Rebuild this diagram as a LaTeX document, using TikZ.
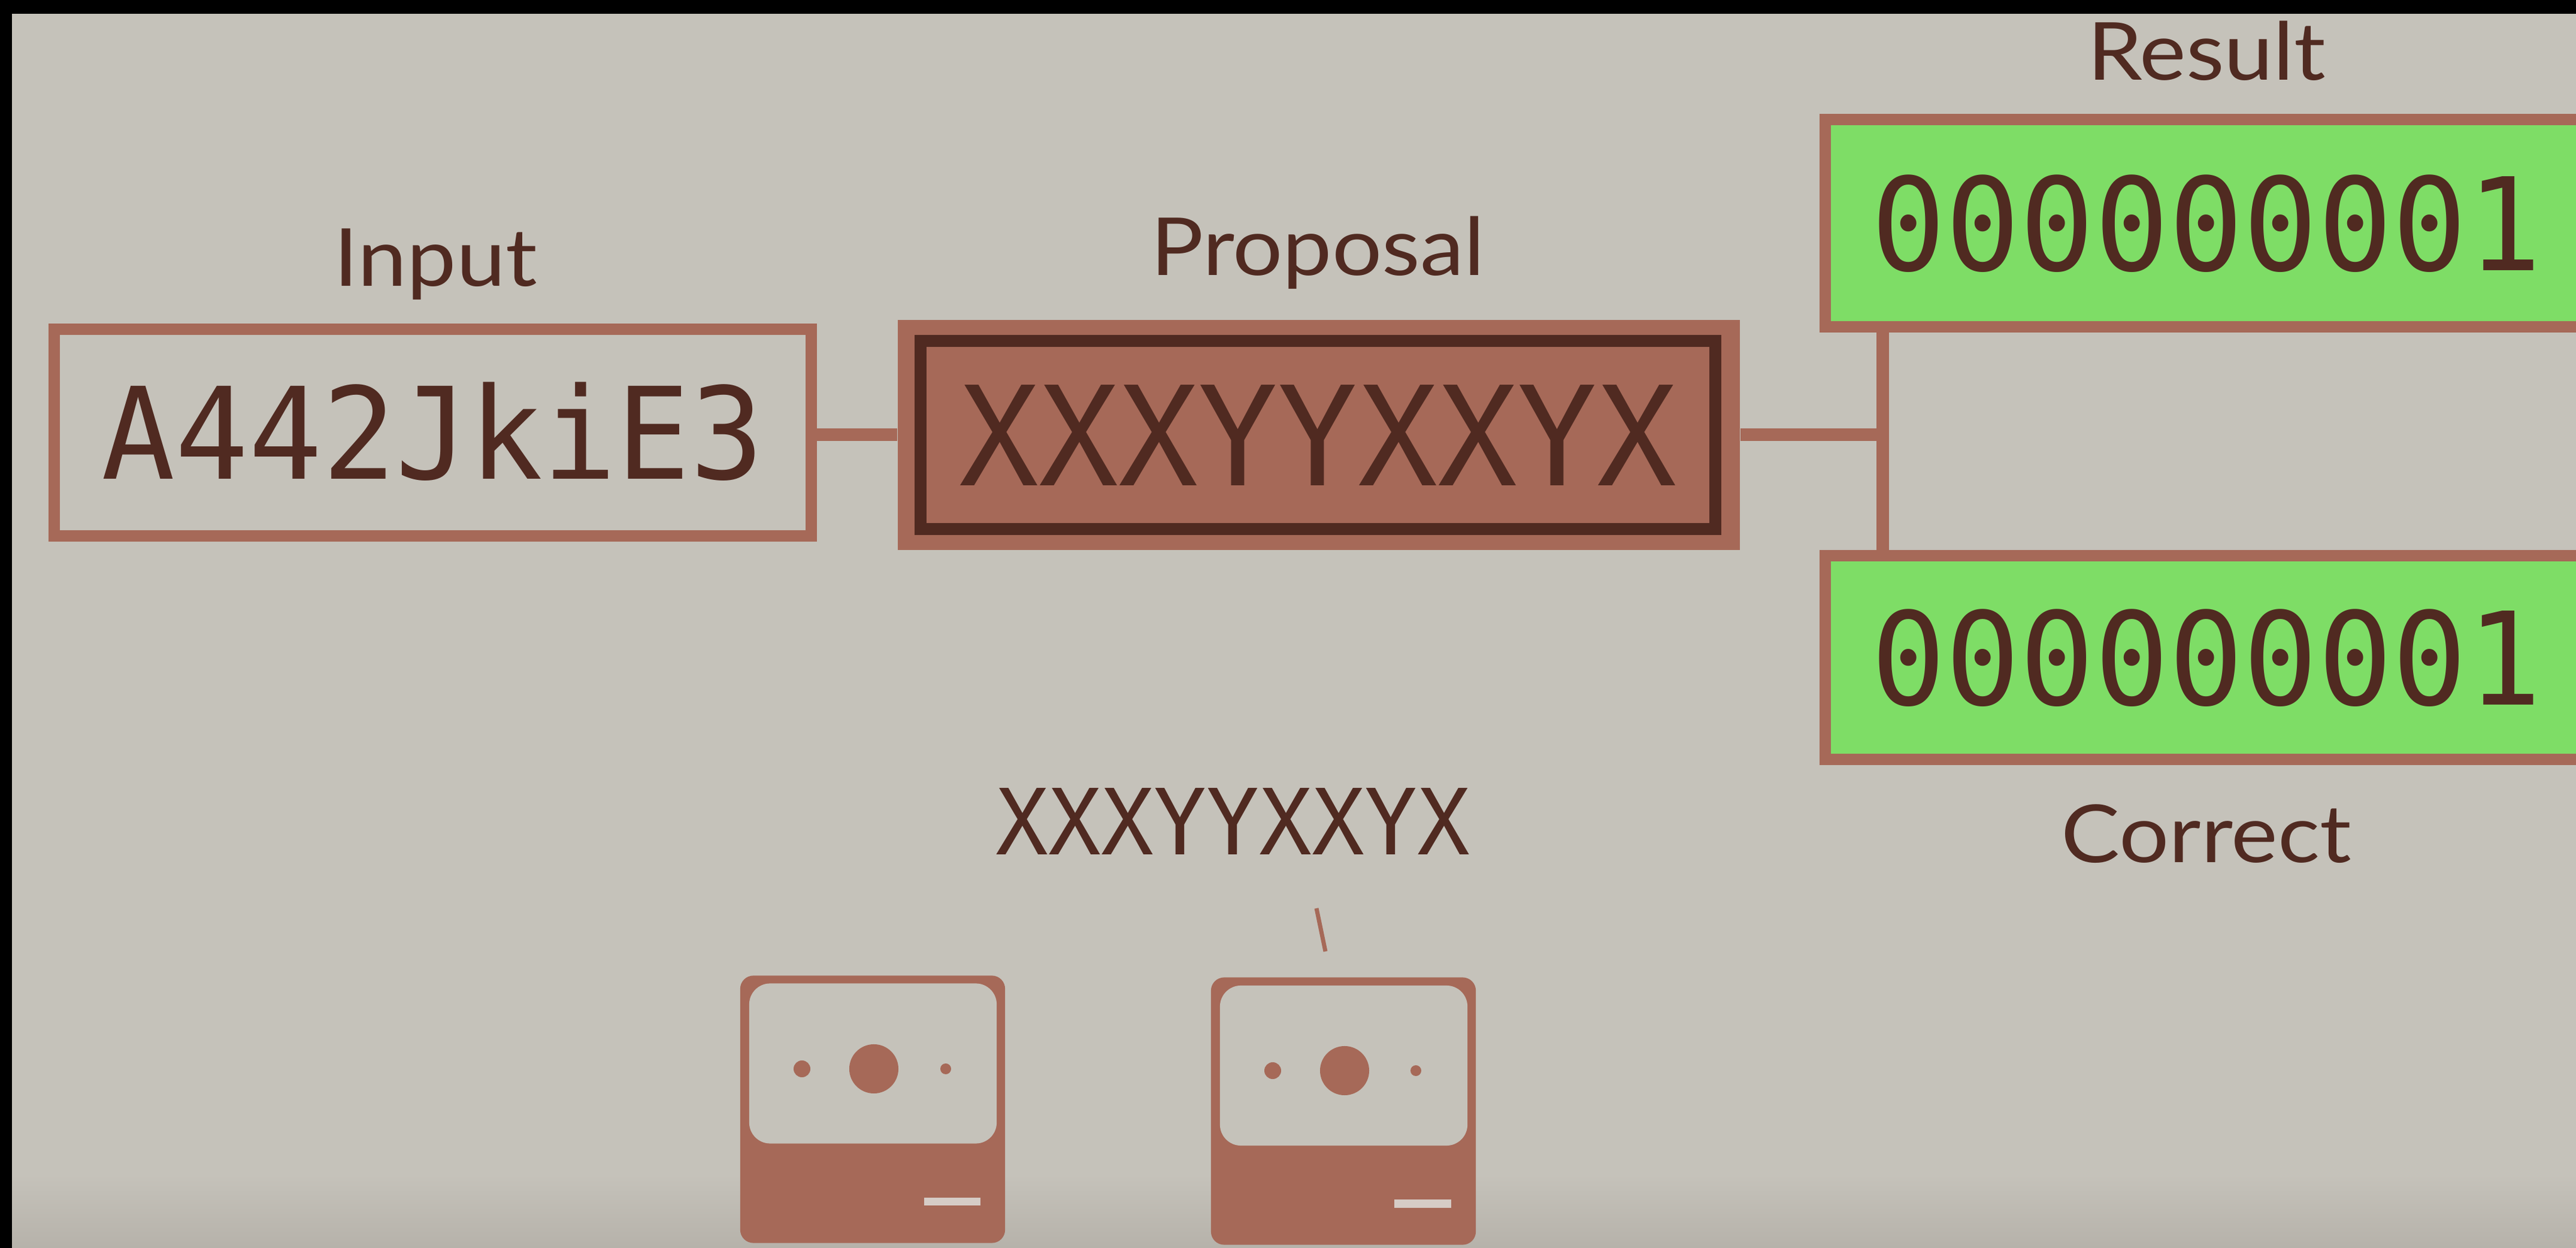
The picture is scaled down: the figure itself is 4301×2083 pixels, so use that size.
\documentclass[tikz,border=0pt]{standalone}
\usepackage{fontspec}
\setmainfont[FakeStretch=1.1]{Lato}
\newfontfamily\codefont[FakeStretch=0.96,Numbers=SlashedZero]{DejaVu Sans Mono}
\usetikzlibrary{positioning}
\definecolor{bgrey}{HTML}{C5C2BA}
\definecolor{bgshade}{HTML}{B6B2AA}
\definecolor{rust}{HTML}{A66958}
\definecolor{darkrust}{HTML}{502A21}
\definecolor{okgreen}{HTML}{7EDD66}
\definecolor{slotcol}{HTML}{D6CCC6}

\begin{document}
\begin{tikzpicture}[x=0.01cm,y=-0.01cm,
		caption/.style={anchor=base,text=darkrust,font=\fontsize{38}{44}\selectfont},
		box/.style={shape=rectangle,draw=rust,line width=0.19cm,inner sep=0pt,text=darkrust,text depth=0pt},
		wire/.style={draw=rust,line width=0.21cm},
		pcbody/.style={shape=rectangle,rounded corners=0.22cm,fill=rust,minimum width=4.42cm,
			minimum height=4.46cm,inner sep=0pt},
		pcscreen/.style={shape=rectangle,rounded corners=0.35cm,fill=bgrey,minimum width=4.13cm,
			minimum height=2.67cm,inner sep=0pt},
		pcdot/.style={shape=circle,fill=rust,inner sep=0pt},
		pcslot/.style={shape=rectangle,fill=slotcol,minimum width=0.94cm,minimum height=0.13cm,inner sep=0pt}]
		\useasboundingbox (0,0) rectangle (4301,2083);
		\fill[black] (0,0) rectangle (4301,2083);
		\fill[bgrey] (20,23) rectangle (4301,2083);
		\shade[top color=bgrey,bottom color=bgshade] (20,1960) rectangle (4301,2083);
		\clip (20,23) rectangle (4301,2083);

		\node[box,minimum width=12.64cm,minimum height=3.44cm,text height=1.55cm,
			font=\codefont\fontsize{60.5}{70}\selectfont] (in) at (722.5,722) {A442JkiE3};
		\node[caption] (inlbl) at (727,478) {Input};

		\node[shape=rectangle,fill=rust,minimum width=14.06cm,minimum height=3.84cm] (prop) at (2202,726) {};
		\node[box,draw=darkrust,line width=0.2cm,minimum width=13.27cm,minimum height=3.14cm,text height=1.68cm,
			font=\codefont\fontsize{65.5}{75}\selectfont] (propin) at (2200.5,726) {XXXYYXXYX};
		\node[caption] (proplbl) at (2200,460) {Proposal};

		\node[box,fill=okgreen,minimum width=12.725cm,minimum height=3.46cm,text height=1.57cm,
			font=\codefont\fontsize{61.2}{70}\selectfont] (res) at (3683.75,372.5) {000000001};
		\node[caption] (reslbl) at (3684,134) {Result};
		\node[box,fill=okgreen,minimum width=12.725cm,minimum height=3.40cm,text height=1.57cm,
			font=\codefont\fontsize{61.2}{70}\selectfont] (cor) at (3683.75,1097.5) {000000001};
		\node[caption] (corlbl) at (3684,1440) {Correct};

		\coordinate (split) at (3143,726);
		\draw[wire] (prop.west) -- (prop.west -| in.east);
		\draw[wire] (prop.east) -- (split);
		\draw[wire] (res.south -| split) -- (cor.north -| split);

		\node[anchor=base,text=darkrust,font=\codefont\fontsize{43.3}{50}\selectfont] (guess) at (2059,1427) {XXXYYXXYX};
		\coordinate (tickA) at (2198,1516);
		\coordinate (tickB) at (2213,1588);
		\draw[rust,line width=0.07cm] (tickA) -- (tickB);

		\node[pcbody] (pc1) at (1457,1851.5) {};
		\node[pcscreen] (scr1) at (1457.5,1775) {};
		\node[pcdot,minimum size=0.28cm] (ledA1) at (1339,1784) {};
		\node[pcdot,minimum size=0.82cm] (lens1) at (1459,1784) {};
		\node[pcdot,minimum size=0.18cm] (ledB1) at (1579,1784) {};
		\node[pcslot] (slot1) at (1590,2005.5) {};

		\node[pcbody] (pc2) at (2243,1854.5) {};
		\node[pcscreen] (scr2) at (2243.5,1778.5) {};
		\node[pcdot,minimum size=0.28cm] (ledA2) at (2125,1787) {};
		\node[pcdot,minimum size=0.82cm] (lens2) at (2245,1787) {};
		\node[pcdot,minimum size=0.18cm] (ledB2) at (2364,1787) {};
		\node[pcslot] (slot2) at (2375.5,2009) {};

	\end{tikzpicture}
\end{document}
